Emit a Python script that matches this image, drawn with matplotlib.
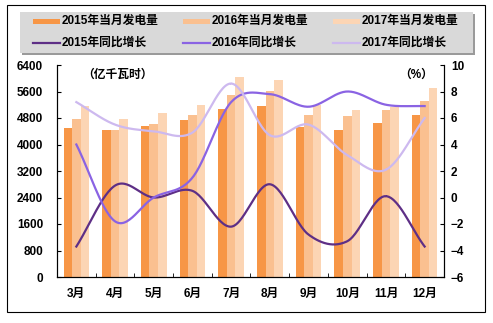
import numpy as np
import matplotlib
matplotlib.use("Agg")
import matplotlib.pyplot as plt
from matplotlib.lines import Line2D
from matplotlib.patches import Rectangle

plt.rcParams['font.family'] = ['Liberation Sans', 'Noto Sans CJK SC', 'DejaVu Sans']
plt.rcParams['font.weight'] = 'bold'

# data
months = ["3月", "4月", "5月", "6月", "7月", "8月", "9月", "10月", "11月", "12月"]
gen_2015 = [4500, 4440, 4570, 4740, 5070, 5170, 4530, 4440, 4650, 4890]
gen_2016 = [4770, 4440, 4620, 4890, 5490, 5610, 4890, 4860, 5040, 5310]
gen_2017 = [5160, 4770, 4950, 5190, 6040, 5950, 5190, 5040, 5140, 5710]
yoy_2015 = [-3.7, 0.9, 0.0, 0.5, -2.2, 1.0, -2.8, -3.3, 0.1, -3.7]
yoy_2016 = [4.0, -1.8, 0.0, 1.5, 7.2, 7.8, 6.85, 8.0, 7.0, 6.9]
yoy_2017 = [7.2, 5.5, 5.0, 4.9, 8.6, 4.7, 5.5, 3.2, 2.1, 6.0]

bar_colors = ["#F79646", "#FAC090", "#FCD5B4"]
line_colors = ["#5E2F86", "#8A63E3", "#CDB9EF"]
FS = 8.5


def smooth(x, y, n=30):
    # Catmull-Rom spline, close to Excel's smoothed line
    x = np.asarray(x, float)
    y = np.asarray(y, float)
    px = np.concatenate([[2*x[0]-x[1]], x, [2*x[-1]-x[-2]]])
    py = np.concatenate([[2*y[0]-y[1]], y, [2*y[-1]-y[-2]]])
    xs, ys = [], []
    t = np.linspace(0, 1, n)

    def f(a0, a1, a2, a3):
        return 0.5*((2*a1) + (-a0 + a2)*t +
                    (2*a0 - 5*a1 + 4*a2 - a3)*t**2 +
                    (-a0 + 3*a1 - 3*a2 + a3)*t**3)

    for i in range(1, len(px) - 2):
        xs.append(f(*px[i-1:i+3]))
        ys.append(f(*py[i-1:i+3]))
    return np.concatenate(xs), np.concatenate(ys)


fig = plt.figure(figsize=(4.93, 3.23), dpi=100)
ax = fig.add_axes([57/493, 1-277/323, 387/493, 212/323])
ax2 = ax.twinx()

x = np.arange(len(months))
w = 0.22
for k, (vals, c) in enumerate(zip([gen_2015, gen_2016, gen_2017], bar_colors)):
    ax.bar(x + (k-1)*w, vals, width=w, color=c, linewidth=0, zorder=2)

for vals, c in zip([yoy_2015, yoy_2016, yoy_2017], line_colors):
    sx, sy = smooth(x, vals)
    ax2.plot(sx, sy, color=c, lw=1.6, zorder=3)

ax.set_xlim(-0.5, len(months) - 0.5)
ax.set_ylim(0, 6400)
ax.set_yticks(np.arange(0, 6401, 800))
ax2.set_ylim(-6, 10)
ax2.set_yticks(np.arange(-6, 11, 2))
ax.set_xticks(x)
ax.set_xticklabels(months)
ax.set_xticks(np.arange(-0.5, len(months), 1), minor=True)
ax.tick_params(axis='x', which='major', length=0, pad=8, labelsize=FS)
ax.tick_params(axis='x', which='minor', direction='in', length=3)
ax.tick_params(axis='y', direction='in', length=3, labelsize=FS, pad=10)
ax2.tick_params(axis='y', direction='in', length=3, labelsize=FS, pad=5)
for a in (ax, ax2):
    a.spines['top'].set_visible(False)
    for s in a.spines.values():
        s.set_linewidth(0.8)
ax.set_zorder(ax2.get_zorder() - 1)
ax.patch.set_visible(True)
ax2.patch.set_visible(False)

ax.text(0.065, 0.98, "（亿千瓦时）", transform=ax.transAxes, fontsize=FS,
        fontweight='bold', va='top', ha='left')
ax2.text(0.885, 0.98, "（%）", transform=ax.transAxes, fontsize=FS,
         fontweight='bold', va='top', ha='left')

# outer frame
fig.patches.append(Rectangle((7/493, 1-312/323), 478/493, 307/323,
                             transform=fig.transFigure, fill=False,
                             edgecolor='black', lw=0.8))

# legend box with shadow
lx0, ly0, lw_, lh = 20/493, 1-53/323, 453/493, 41/323
fig.patches.append(Rectangle((lx0 + 2/493, ly0 - 2/323), lw_, lh,
                             transform=fig.transFigure, color='#9a9a9a',
                             lw=0, zorder=1))
fig.patches.append(Rectangle((lx0, ly0), lw_, lh, transform=fig.transFigure,
                             color='#d9d9d9', lw=0, zorder=2))

labels_bar = ["2015年当月发电量", "2016年当月发电量", "2017年当月发电量"]
labels_line = ["2015年同比增长", "2016年同比增长", "2017年同比增长"]
col_x = [33, 183, 333]
for i in range(3):
    hx = col_x[i] / 493
    yb = 1 - 21/323
    yl = 1 - 43/323
    fig.patches.append(Rectangle((hx, yb - 2.5/323), 27/493, 5/323,
                                 transform=fig.transFigure,
                                 color=bar_colors[i], lw=0, zorder=3))
    fig.text(hx + 29/493, yb, labels_bar[i], fontsize=FS, fontweight='bold',
             va='center', ha='left', zorder=4)
    fig.lines.append(Line2D([hx, hx + 27/493], [yl, yl],
                            transform=fig.transFigure,
                            color=line_colors[i], lw=1.6, zorder=3))
    fig.text(hx + 29/493, yl, labels_line[i], fontsize=FS, fontweight='bold',
             va='center', ha='left', zorder=4)

fig.savefig("out.png", dpi=100)
